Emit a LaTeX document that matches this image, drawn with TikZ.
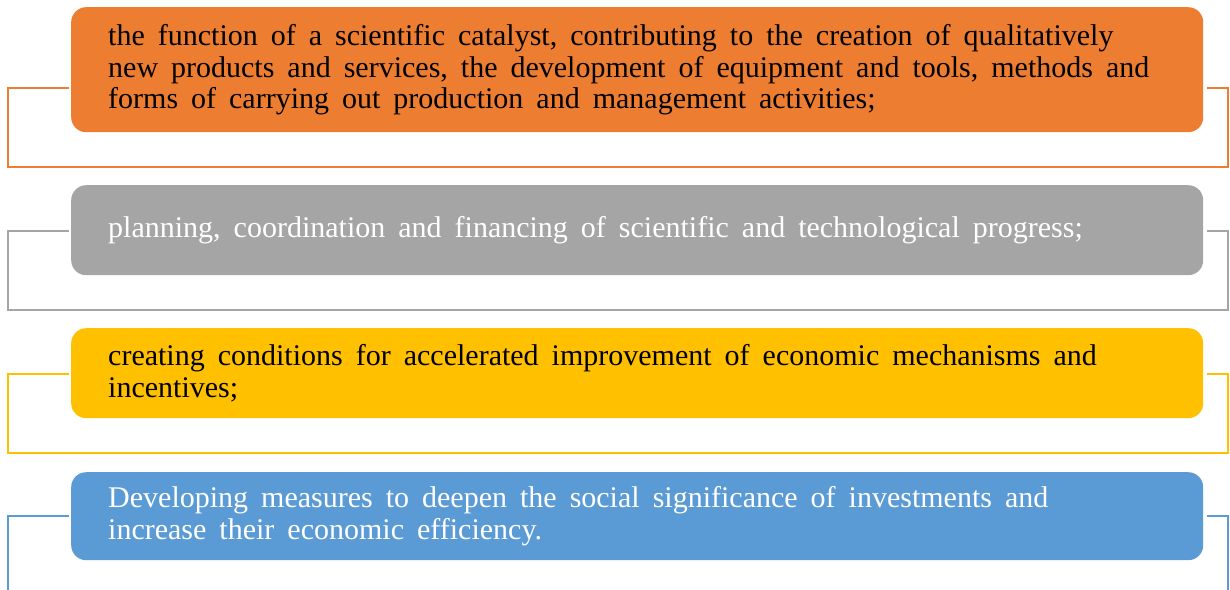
\documentclass[tikz,border=0pt]{standalone}
\usepackage{fontspec}
\setmainfont{Liberation Serif}
\usetikzlibrary{calc}
\definecolor{corange}{HTML}{ED7D31}
\definecolor{cgray}{HTML}{A5A5A5}
\definecolor{cgold}{HTML}{FFC000}
\definecolor{cblue}{HTML}{5B9BD5}
\newcommand{\itemfont}{\fontsize{30}{31.5}\selectfont}
\newcommand{\widespaces}{\spaceskip=13pt\relax}
\begin{document}
\begin{tikzpicture}[x=1pt,y=-1pt,
  item/.style={rounded corners=15pt, minimum width=1132pt, text width=1058pt,
    inner xsep=37pt, inner ysep=0pt, align=left, anchor=north west,
    font=\itemfont, execute at begin node=\widespaces},
  frame/.style={line width=2pt}]
\useasboundingbox (0,0) rectangle (1230,589);
\clip (0,0) rectangle (1230,589);

% boxes
\node[item, fill=corange, text=black, minimum height=125pt] (b1) at (71,7)
  {the function of a scientific catalyst, contributing to the creation of qualitatively\\
   new products and services, the development of equipment and tools, methods and\\
   forms of carrying out production and management activities;};
\node[item, fill=cgray, text=white, minimum height=90pt] (b2) at (71,185)
  {planning, coordination and financing of scientific and technological progress;};
\node[item, fill=cgold, text=black, minimum height=90pt] (b3) at (71,328)
  {creating conditions for accelerated improvement of economic mechanisms and\\
   incentives;};
\node[item, fill=cblue, text=white, minimum height=88pt] (b4) at (71,472)
  {Developing measures to deepen the social significance of investments and\\
   increase their economic efficiency.};

% bracket frames behind each box
\foreach \b/\c in {b1/corange, b2/cgray, b3/cgold, b4/cblue}{
  \coordinate (\b l) at ($(\b.south west)+(-2,-44)$);
  \coordinate (\b r) at ($(\b.south east)+(4,-44)$);
  \draw[frame, \c] (\b l) -- ++(-61,0) -- ++(0,79) -| ($(\b r)+(21,0)$) -- (\b r);
}
\end{tikzpicture}
\end{document}
